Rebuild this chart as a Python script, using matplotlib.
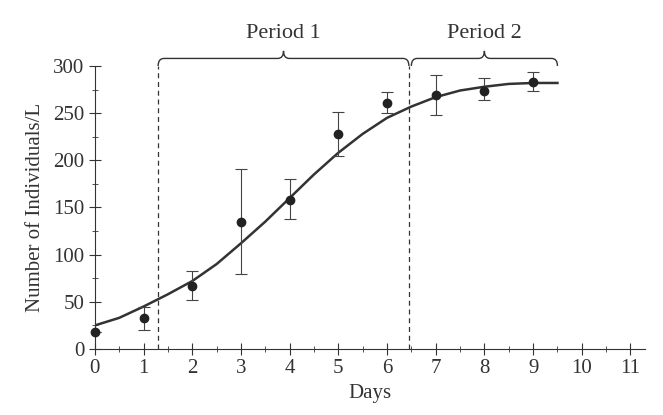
import matplotlib
matplotlib.use("Agg")
import matplotlib.pyplot as plt
from matplotlib.path import Path
from matplotlib.patches import PathPatch
from matplotlib.ticker import MultipleLocator

plt.rcParams['font.family'] = ['Liberation Serif', 'DejaVu Serif']

days = [0, 1, 2, 3, 4, 5, 6, 7, 8, 9]
counts = [18, 33, 67, 135, 158, 228, 261, 269, 274, 283]
err_low = [18, 20, 52, 80, 138, 205, 250, 248, 264, 273]
err_high = [18, 45, 83, 191, 180, 251, 272, 290, 287, 294]

curve_x = [0, 0.5, 1, 1.5, 2, 2.5, 3, 3.5, 4, 4.5, 5, 5.5, 6, 6.5, 7, 7.5, 8, 8.5, 9, 9.5]
curve_y = [25, 33, 45, 58, 72, 90, 112, 135, 160, 185, 208, 228, 245, 257, 267, 274, 278, 281, 282, 282]

period_edges = [1.3, 6.45, 9.5]
period_labels = ["Period 1", "Period 2"]

fig = plt.figure(figsize=(6.63, 4.15), dpi=100)
ax = fig.add_axes([0.143, 0.159, 0.83, 0.682])

lo = [c - l for c, l in zip(counts, err_low)]
hi = [h - c for c, h in zip(counts, err_high)]
eb = ax.errorbar(days, counts, yerr=[lo, hi], fmt='o', color='#222222', ms=6,
                 ecolor='#444444', elinewidth=0.8, capsize=4, capthick=0.8, zorder=3)
for a in eb.lines[0:1]:
    a.set_clip_on(False)
ax.plot(curve_x, curve_y, color='#333333', lw=1.8)

for x in period_edges[:2]:
    ax.plot([x, x], [0, 300], ls='--', color='#333333', lw=0.9, dashes=(4, 3))


def brace(ax, x0, x1, y, h=8, r=0.12):
    xm = (x0 + x1) / 2
    v = [(x0, y - h), (x0, y), (x0 + r, y),
         (xm - r, y), (xm, y), (xm, y + h),
         (xm, y), (xm + r, y),
         (x1 - r, y), (x1, y), (x1, y - h)]
    c = [Path.MOVETO, Path.CURVE3, Path.CURVE3,
         Path.LINETO, Path.CURVE3, Path.CURVE3,
         Path.CURVE3, Path.CURVE3,
         Path.LINETO, Path.CURVE3, Path.CURVE3]
    ax.add_patch(PathPatch(Path(v, c), fill=False, lw=1.0, ec='#333333', clip_on=False))
    return xm


for i, lab in enumerate(period_labels):
    xm = brace(ax, period_edges[i] + (0.05 if i else 0), period_edges[i + 1], 308)
    ax.text(xm, 324, lab, ha='center', va='bottom', fontsize=16, color='#333333')

ax.set_xlim(0, 11.3)
ax.set_ylim(0, 300)
ax.spines['top'].set_visible(False)
ax.spines['right'].set_visible(False)
for s in ['left', 'bottom']:
    ax.spines[s].set_color('#333333')
    ax.spines[s].set_clip_on(False)
ax.set_xticks(range(0, 12))
ax.set_yticks(range(0, 301, 50))
ax.xaxis.set_minor_locator(MultipleLocator(0.5))
ax.yaxis.set_minor_locator(MultipleLocator(25))
ax.tick_params(which='major', direction='inout', length=8, labelsize=15, colors='#333333')
ax.tick_params(which='minor', direction='inout', length=4, colors='#333333')
ax.set_xlabel('Days', fontsize=15, color='#333333')
ax.set_ylabel('Number of Individuals/L', fontsize=15, color='#333333', labelpad=6)

fig.savefig('out.png', dpi=100)
